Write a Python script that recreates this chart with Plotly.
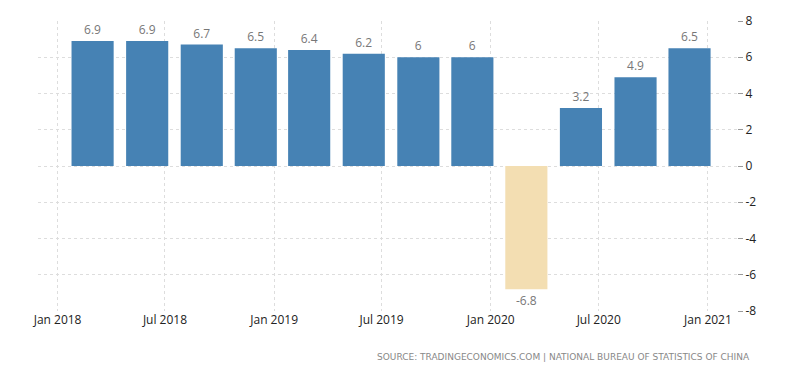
import plotly.graph_objects as go

dates = ["2018-03-01", "2018-06-01", "2018-09-01", "2018-12-01",
         "2019-03-01", "2019-06-01", "2019-09-01", "2019-12-01",
         "2020-03-01", "2020-06-01", "2020-09-01", "2020-12-01"]
gdp_growth = [6.9, 6.9, 6.7, 6.5, 6.4, 6.2, 6.0, 6.0, -6.8, 3.2, 4.9, 6.5]
y_ticks = [-8, -6, -4, -2, 0, 2, 4, 6, 8]

POS = "#4682B4"
NEG = "#F3DEB2"
colors = [POS if v >= 0 else NEG for v in gdp_growth]
labels = [f"{v:g}" for v in gdp_growth]

fig = go.Figure(go.Bar(
    x=dates, y=gdp_growth,
    marker=dict(color=colors, line=dict(width=0)),
    width=[71 * 86400000] * len(dates),
    text=labels, textposition="outside", cliponaxis=False,
    textfont=dict(color="#777777", size=12, family="Open Sans"),
    hoverinfo="x+y",
))

fig.update_layout(
    width=800, height=373,
    margin=dict(l=38, r=63, t=21, b=62),
    paper_bgcolor="white", plot_bgcolor="white",
    showlegend=False,
    font=dict(family="Open Sans", color="#222222", size=12),
    xaxis=dict(
        type="date",
        range=["2017-11-29", "2021-02-19"],
        tick0="2018-01-01", dtick="M6", tickformat="%b %Y",
        showgrid=True, gridcolor="#dddddd", griddash="dot", gridwidth=1,
        zeroline=False, showline=False, ticks="",
        tickfont=dict(size=12, color="#222222"),
    ),
    yaxis=dict(
        side="right", range=[-8, 8],
        tickvals=y_ticks, ticktext=[str(t) for t in y_ticks],
        showgrid=True, gridcolor="#dddddd", griddash="dot", gridwidth=1,
        zeroline=False, showline=False,
        ticks="outside", ticklen=5, tickcolor="#999999",
        tickfont=dict(size=12, color="#222222"),
    ),
    annotations=[dict(
        text="SOURCE: TRADINGECONOMICS.COM | NATIONAL BUREAU OF STATISTICS OF CHINA",
        xref="paper", yref="paper", x=(752 - 38) / (800 - 38 - 63), y=(373 - 62 - 357) / (373 - 21 - 62),
        xanchor="right", yanchor="middle", showarrow=False,
        font=dict(size=9, color="#888888", family="DejaVu Sans"),
    )],
)

fig.write_html("out.html", config={"displayModeBar": False},
               post_script="document.body.style.margin='0px';document.body.style.overflow='hidden';")
